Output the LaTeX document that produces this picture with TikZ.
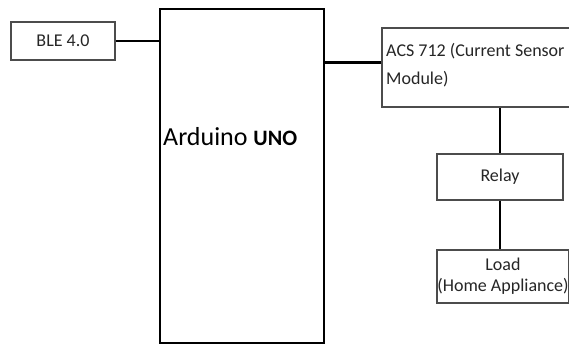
\documentclass[tikz,border=0pt]{standalone}
\usepackage{fontspec}
\setmainfont{Carlito}
\usetikzlibrary{positioning}

\begin{document}
\begin{tikzpicture}[
			x=1pt, y=-1pt,
			box/.style={
					draw=black!70,
					line width=1.2pt,
					fill=white,
					inner sep=0pt,
					text=black!85,
					font=\fontsize{18}{21}\selectfont
				},
			wire/.style={line width=2.8pt, black}
		]
		\useasboundingbox (0,0) rectangle (569,346);

		\node[box, minimum width=104, minimum height=38] (ble) at (63,41) {BLE 4.0};
		\node[box, draw=black, line width=2.6pt, minimum width=164, minimum height=334] (uno) at (242,176) {};
		\node[anchor=base west, inner sep=0pt, text=black] (unotxt) at (163,145)
		{\fontsize{26}{30}\selectfont Arduino \fontsize{22}{26}\selectfont\bfseries UNO};

		\node[box, minimum width=238, minimum height=79] (acs) at (501,67.5) {};
		\node[anchor=north west, inner sep=0pt, align=left, text=black!85,
			font=\fontsize{18}{28}\selectfont] (acstxt) at (386,43)
		{ACS 712 (Current Sensor\\Module)};

		\node[box, minimum width=126, minimum height=46] (relay) at (500,177) {Relay};
		\node[box, minimum width=132, minimum height=53, align=center] (load) at (503,276.5)
		{Load\\(Home Appliance)};

		\coordinate (acsin) at ([yshift=5pt]acs.west); % wire meets the box a bit above its middle

		\draw[wire] (ble.east) -- (ble.east -| uno.west);
		\draw[wire] (acsin) -- (acsin -| uno.east);
		\draw[wire] (relay.north) -- (relay.north |- acs.south);
		\draw[wire] (relay.south) -- (relay.south |- load.north);

	\end{tikzpicture}
\end{document}
